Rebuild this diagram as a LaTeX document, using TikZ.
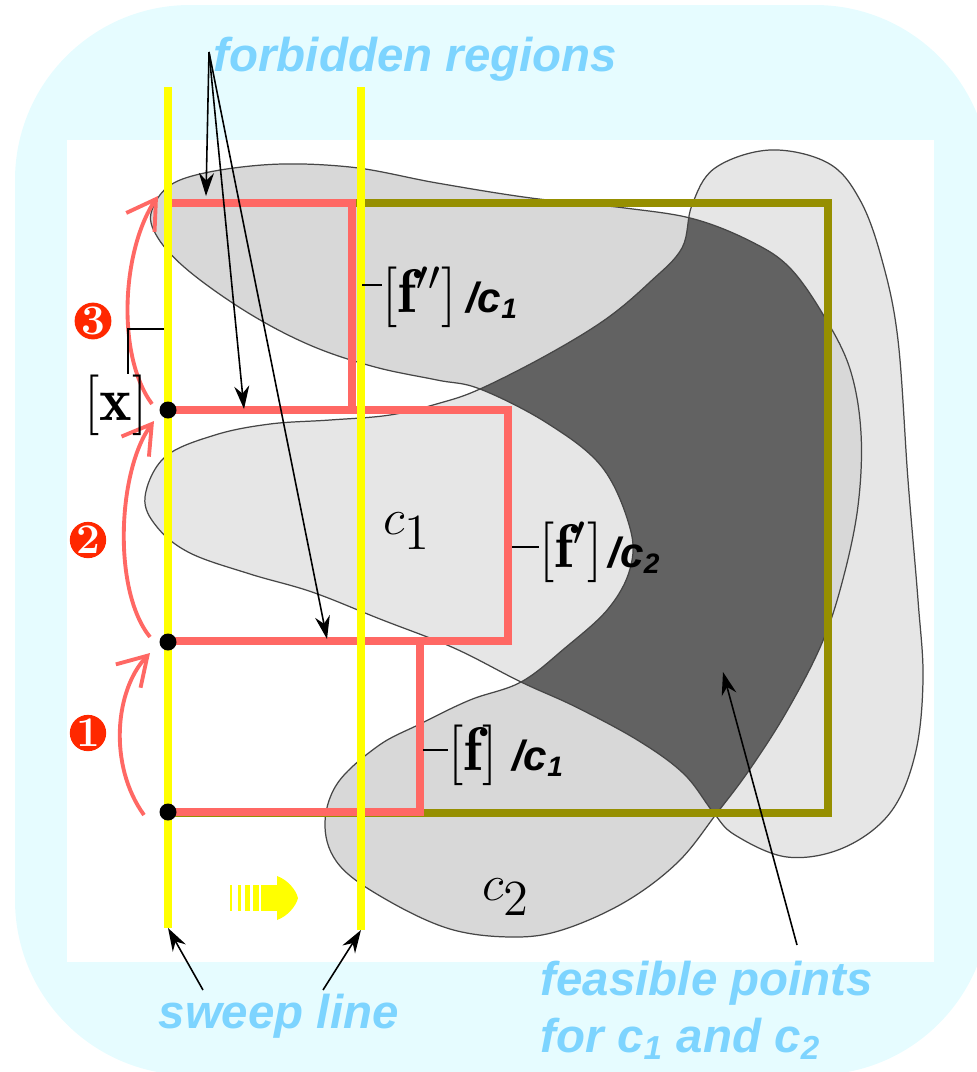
\documentclass[tikz,border=0pt]{standalone}
\usepackage{fontspec}
\setsansfont{Liberation Sans}
\usetikzlibrary{arrows.meta, positioning}
\definecolor{paleCyan}{RGB}{230,252,255}
\definecolor{skyText}{RGB}{125,212,255}
\definecolor{sweepYellow}{RGB}{255,255,0}
\definecolor{boxPink}{RGB}{255,104,100}
\definecolor{domOlive}{RGB}{150,143,0}
\definecolor{stepRed}{RGB}{255,40,0}
\definecolor{cOneGrey}{RGB}{230,230,230}
\definecolor{cTwoGrey}{RGB}{216,216,216}
\definecolor{feasGrey}{RGB}{98,98,98}
\definecolor{rimGrey}{RGB}{70,70,70}

% outlines of the two constraint sets (pixel units, y downwards)
\def\cOne{plot[smooth cycle, tension=0.6] coordinates {
  (145,497) (165,457) (215,435) (270,424) (330,420) (390,415) (440,403)
  (480,389) (547,355) (606,319) (650,282) (682,248) (692,205) (715,168)
  (770,150) (828,163) (860,200) (882,260) (898,340) (908,480) (918,600)
  (923,680) (915,755) (890,813) (843,848) (787,857) (735,835) (713,812)
  (684,774) (639,741) (576,707) (521,682) (454,648) (380,619) (312,592)
  (250,574) (190,553) (157,527)}}
\def\cTwo{plot[smooth cycle, tension=0.6] coordinates {
  (152,210) (180,180) (262,165) (350,167) (437,183) (531,198) (625,208)
  (694,219) (752,242) (790,268) (824,316) (850,369) (861,433) (858,506)
  (843,579) (822,643) (787,711) (750,769) (717,813) (678,862) (625,902)
  (562,930) (512,937) (450,929) (387,900) (340,866) (325,827) (337,784)
  (378,746) (420,724) (470,700) (521,682) (565,648) (608,609) (630,569)
  (630,528) (602,467) (547,423) (480,389) (437,380) (375,367) (312,346)
  (250,314) (190,272) (158,238)}}

\begin{document}
\begin{tikzpicture}[x=0.1mm, y=-0.1mm,
    bluelbl/.style={text=skyText, inner sep=0pt,
                    font=\sffamily\bfseries\itshape\fontsize{13.5}{16}\selectfont},
    constr/.style={inner sep=0pt,
                   font=\sffamily\bfseries\itshape\fontsize{12}{14}\selectfont},
    boxlbl/.style={inner sep=0pt, font=\fontsize{17.5}{20}\selectfont},
    setlbl/.style={inner sep=0pt, font=\fontsize{15}{17}\selectfont},
    sweepline/.style={draw=sweepYellow, line width=2.1pt},
    forbbox/.style={draw=boxPink, line width=2pt},
    leader/.style={draw=black, line width=0.35pt},
    pointer/.style={-{Stealth[length=2.3mm, width=1.5mm]}, line width=0.45pt},
    hop/.style={draw=boxPink, line width=1.1pt,
                -{Straight Barb[length=2.8mm, width=3.4mm]}},
    stepnum/.style={circle, fill=stepRed, text=white, inner sep=0pt,
                    minimum size=3.4mm, font=\bfseries\fontsize{12}{12}\selectfont},
    cut/.style={circle, fill=black, inner sep=0pt, minimum size=1.7mm},
    rim/.style={draw=rimGrey, line width=0.35pt}
  ]
  \useasboundingbox (0,0) rectangle (977,1072);
  \fill[paleCyan, rounded corners=17.5mm] (15,5) rectangle (990,1075);
  \fill[white] (67,140) rectangle (934,962);

  % constraint sets and feasible part
  \fill[cOneGrey] \cOne;
  \fill[cTwoGrey] \cTwo;
  \begin{scope}
    \clip \cOne;
    \clip (168,203) rectangle (828,813);
    \fill[feasGrey] \cTwo;
  \end{scope}
  \draw[rim] \cOne;
  \draw[rim] \cTwo;

  % domain box and forbidden boxes
  \draw[draw=domOlive, line width=2.3pt] (168,203) rectangle (828,813);
  \draw[forbbox] (168,203) rectangle (352,410);
  \draw[forbbox] (168,410) rectangle (508,641);
  \draw[forbbox] (168,641) rectangle (420,812);

  % sweep lines
  \coordinate (swAtop) at (168,87);
  \coordinate (swAbot) at (168,928);
  \coordinate (swBtop) at (361,87);
  \coordinate (swBbot) at (361,930);
  \draw[sweepline] (swAtop) -- (swAbot);
  \draw[sweepline] (swBtop) -- (swBbot);

  % sweep direction
  \foreach \xa/\xb in {230/232, 238/241, 245/250, 253/259}
    \fill[sweepYellow] (\xa,885) rectangle (\xb,911);
  \fill[sweepYellow] (261,885) rectangle (279,911);
  \fill[sweepYellow] (277,876) .. controls (288,880) and (296,890) .. (298,898)
    .. controls (296,906) and (288,916) .. (277,920) -- cycle;

  % points on the sweep line
  \node[cut] (ptA) at (168,812) {};
  \node[cut] (ptB) at (168,642) {};
  \node[cut] (ptC) at (168,410) {};

  % jumps
  \coordinate (hopAs) at (144,815);
  \coordinate (hopAe) at (150,653);
  \coordinate (hopBs) at (150,637);
  \coordinate (hopBe) at (154,421);
  \coordinate (hopCs) at (152,404);
  \coordinate (hopCe) at (158,196);
  \draw[hop] (hopAs) .. controls (108,765) and (115,690) .. (hopAe);
  \draw[hop] (hopBs) .. controls (112,590) and (118,470) .. (hopBe);
  \draw[hop] (hopCs) .. controls (116,355) and (122,250) .. (hopCe);
  \node[stepnum] (stepA) at (88,733) {1};
  \node[stepnum] (stepB) at (88,540) {2};
  \node[stepnum] (stepC) at (93,321) {3};

  % box labels
  \node[boxlbl] (xlbl) at (116,405) {$[\mathbf{x}]$};
  \coordinate (xLead) at (164,329);
  \draw[leader] (xLead) -| ([xshift=1.2mm]xlbl.north);

  \node[boxlbl, anchor=west] (fpp) at (382,297) {$[\mathbf{f}'']$};
  \node[constr, anchor=base west] (fppc) at ([xshift=0.8mm]fpp.base east) {/c\textsubscript{1}};
  \coordinate (fppLead) at (362,285);
  \draw[leader] (fppLead) -- (fppLead -| fpp.west);

  \node[boxlbl, anchor=west] (fp) at (539,552) {$[\mathbf{f}']$};
  \node[constr, anchor=base west] (fpc) at ([xshift=0.5mm]fp.base east) {/c\textsubscript{2}};
  \coordinate (fpLead) at (512,547);
  \draw[leader] (fpLead) -- (fpLead -| fp.west);

  \node[boxlbl, anchor=west] (f0) at (448,755) {$[\mathbf{f}]$};
  \node[constr, anchor=base west] (f0c) at ([xshift=1.3mm]f0.base east) {/c\textsubscript{1}};
  \coordinate (f0Lead) at (423,750);
  \draw[leader] (f0Lead) -- (f0Lead -| f0.west);

  \node[setlbl] (cOneLbl) at (407,531) {$c_{\textstyle 1}$};
  \node[setlbl] (cTwoLbl) at (506,897) {$c_{\textstyle 2}$};

  % annotations
  \node[bluelbl, anchor=base west] (forbid) at (213,71) {forbidden regions};
  \coordinate (forbidRoot) at (209,52);
  \coordinate (fTipA) at (206,196);
  \coordinate (fTipB) at (244,409);
  \coordinate (fTipC) at (327,639);
  \foreach \t in {fTipA, fTipB, fTipC}
    \draw[pointer] (forbidRoot) -- (\t);

  \node[bluelbl, anchor=base west] (sweep) at (158,1028) {sweep line};
  \coordinate (swTailA) at (203,990);
  \coordinate (swTailB) at (323,990);
  \draw[pointer] (swTailA) -- (swAbot);
  \draw[pointer] (swTailB) -- (swBbot);

  \node[bluelbl, anchor=base west] (feasA) at (540,995) {feasible points};
  \node[bluelbl, anchor=base west] (feasB) at ([yshift=-5.7mm]feasA.base west)
    {for c\textsubscript{1} and c\textsubscript{2}};
  \coordinate (feasTail) at (797,945);
  \coordinate (feasTip) at (723,672);
  \draw[pointer] (feasTail) -- (feasTip);
\end{tikzpicture}
\end{document}
